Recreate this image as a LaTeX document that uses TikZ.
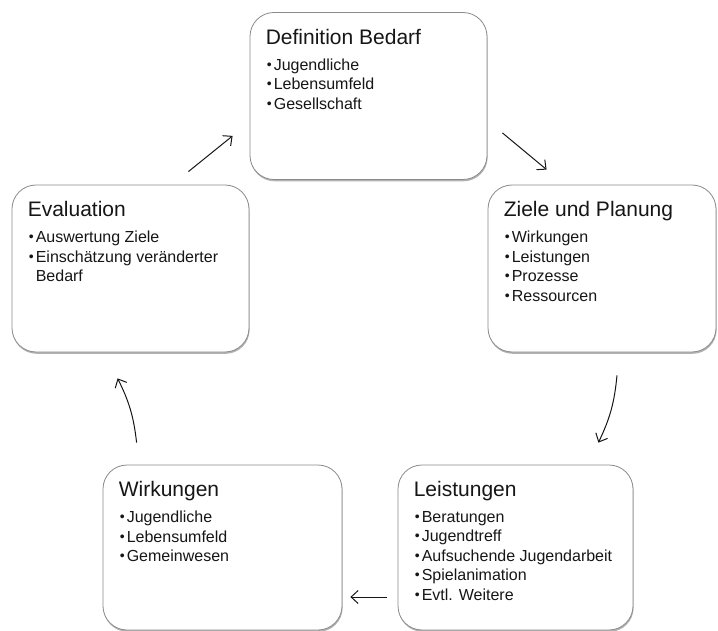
\documentclass[tikz,border=0pt]{standalone}
\usepackage{fontspec}
\setmainfont{Liberation Sans}
\usepackage{xcolor}
\usetikzlibrary{positioning, arrows.meta, shadows}
\definecolor{boxline}{HTML}{8A8A8A}
\definecolor{inkgray}{HTML}{161616}

\newcommand{\bul}{\makebox[7pt][l]{\raisebox{0.9pt}{\fontsize{14}{14}\selectfont•}}}
\newcommand{\nobul}{\hspace*{7pt}}

\begin{document}
\begin{tikzpicture}[x=1pt, y=-1pt,
  phase/.style={draw=boxline, line width=0.8pt, rounded corners=24pt, fill=white,
    minimum height=167pt, inner sep=0pt,
    drop shadow={shadow xshift=0.6pt, shadow yshift=-1.8pt, opacity=0.5, fill=black!60}},
  heading/.style={anchor=base west, inner sep=0pt, text=inkgray,
    font=\fontsize{21}{25}\selectfont},
  items/.style={inner sep=0pt, align=left, text=inkgray,
    font=\fontsize{16}{19.5}\selectfont},
  flow/.style={-{Straight Barb[length=7pt, width=13pt]}, line width=1pt, inkgray}
]
\useasboundingbox (0,0) rectangle (718,631);

% the five phases
\node[phase, minimum width=237pt] (bedarf) at (368.5,96) {};
\node[phase, minimum width=228pt] (ziele) at (602,268.5) {};
\node[phase, minimum width=237pt] (eval) at (130.5,268.5) {};
\node[phase, minimum width=239pt, minimum height=165pt] (wirk) at (222.5,547.5) {};
\node[phase, minimum width=235pt, minimum height=165pt] (leist) at (515.5,547.5) {};

% texts
\node[heading] (bedarf-title) at ([shift={(16pt,-32pt)}]bedarf.north west) {Definition Bedarf};
\node[items, below right=14.4pt and 1pt of bedarf-title.base west] (bedarf-list)
  {\bul Jugendliche\\ \bul Lebensumfeld\\ \bul Gesellschaft};

\node[heading] (ziele-title) at ([shift={(16pt,-32pt)}]ziele.north west) {Ziele und Planung};
\node[items, below right=14.4pt and 1pt of ziele-title.base west] (ziele-list)
  {\bul Wirkungen\\ \bul Leistungen\\ \bul Prozesse\\ \bul Ressourcen};

\node[heading] (eval-title) at ([shift={(16pt,-32pt)}]eval.north west) {Evaluation};
\node[items, below right=14.4pt and 1pt of eval-title.base west] (eval-list)
  {\bul Auswertung Ziele\\ \bul Einschätzung veränderter\\ \nobul Bedarf};

\node[heading] (wirk-title) at ([shift={(16pt,-32pt)}]wirk.north west) {Wirkungen};
\node[items, below right=14.4pt and 1pt of wirk-title.base west] (wirk-list)
  {\bul Jugendliche\\ \bul Lebensumfeld\\ \bul Gemeinwesen};

\node[heading] (leist-title) at ([shift={(16pt,-32pt)}]leist.north west) {Leistungen};
\node[items, below right=14.4pt and 1pt of leist-title.base west] (leist-list)
  {\bul Beratungen\\ \bul Jugendtreff\\ \bul Aufsuchende Jugendarbeit\\ \bul Spielanimation\\ \bul Evtl. Weitere};

% cycle
\draw[flow] ([shift={(-61pt,13pt)}]eval.north east) -- ([shift={(-17pt,44pt)}]bedarf.south west);
\draw[flow] ([shift={(15pt,47pt)}]bedarf.south east) -- ([shift={(59pt,15pt)}]ziele.north west);
\draw[flow] ([shift={(15pt,-23pt)}]ziele.south) to[bend left=10] ([shift={(-35pt,22pt)}]leist.north east);
\draw[flow] ([shift={(-11pt,-49.5pt)}]leist.west) -- ([shift={(8pt,-49.5pt)}]wirk.east);
\draw[flow] ([shift={(34pt,22pt)}]wirk.north west) to[bend right=10] ([shift={(106pt,-26pt)}]eval.south west);
\end{tikzpicture}
\end{document}
